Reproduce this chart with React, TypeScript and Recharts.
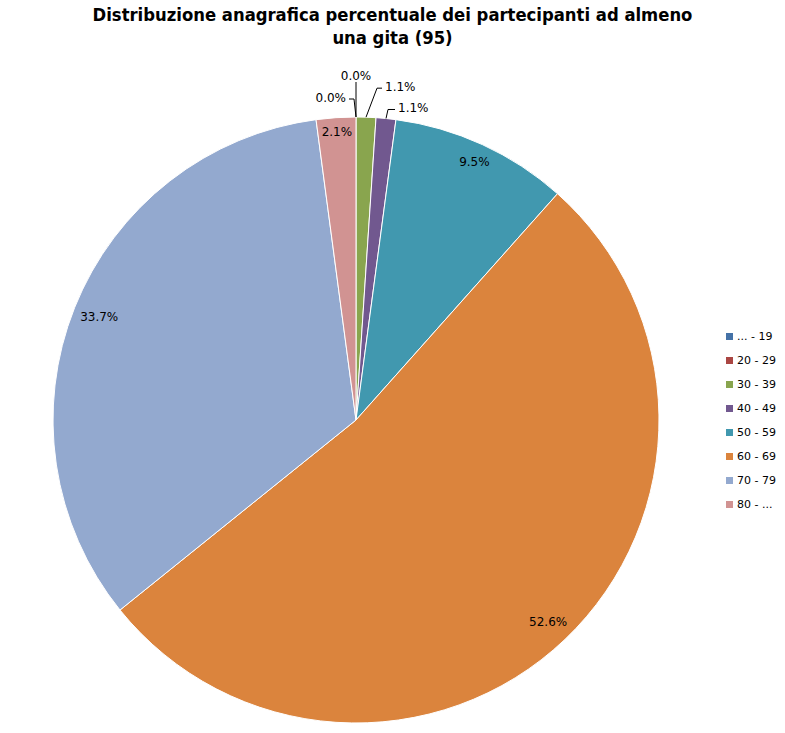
import React from 'react';
import { PieChart, Pie, Cell, Legend } from 'recharts';

const AGE_GROUPS = ['... - 19', '20 - 29', '30 - 39', '40 - 49', '50 - 59', '60 - 69', '70 - 79', '80 - ...'];
const PARTICIPANTS = [0, 0, 1, 1, 9, 50, 32, 2];

const COLORS = ['#4572A7', '#AA4643', '#89A54E', '#71588F', '#4198AF', '#DB843D', '#93A9CF', '#D19392'];

// leader-line tweaks for the tiny slices at the top (offsets from the slice edge)
const LEADERS: Record<number, { dx: number; dy: number; h: number; anchor: 'start' | 'middle' | 'end' }> = {
  0: { dx: 0, dy: -35, h: 0, anchor: 'middle' },
  1: { dx: -2, dy: -18, h: -5, anchor: 'end' },
  2: { dx: 11, dy: -29, h: 5, anchor: 'start' },
  3: { dx: 2, dy: -9, h: 7, anchor: 'start' },
};

const data = AGE_GROUPS.map((g, i) => ({ name: g, value: PARTICIPANTS[i] }));

const RADIAN = Math.PI / 180;
const FONT = 'DejaVu Sans, Verdana, sans-serif';
const LABEL_SIZE = 12;

if (typeof document !== 'undefined') document.body.style.margin = '0';

function renderLabel(props: any) {
  const { cx, cy, midAngle, outerRadius, percent, index } = props;
  const text = `${(percent * 100).toFixed(1)}%`;
  const cos = Math.cos(-midAngle * RADIAN);
  const sin = Math.sin(-midAngle * RADIAN);
  const leader = LEADERS[index];
  if (leader) {
    const ex = cx + outerRadius * cos;
    const ey = cy + outerRadius * sin;
    const mx = ex + leader.dx;
    const my = ey + leader.dy;
    const hx = mx + leader.h;
    const tx = leader.anchor === 'middle' ? hx : hx + (leader.h < 0 ? -3 : 3);
    const ty = leader.anchor === 'middle' ? my - 6 : my - 1;
    return (
      <g key={`lbl-${index}`}>
        <polyline points={`${ex},${ey} ${mx},${my} ${hx},${my}`} fill="none" stroke="#000" strokeWidth={1} />
        <text x={tx} y={ty} textAnchor={leader.anchor} dominantBaseline="central" fontSize={LABEL_SIZE} fontFamily={FONT} fill="#000">
          {text}
        </text>
      </g>
    );
  }
  // keep the label box just inside the rim
  const hw = text.length * 0.3 * LABEL_SIZE;
  const hh = LABEL_SIZE / 2;
  const r = outerRadius - 7.5 - (Math.abs(cos) * hw + Math.abs(sin) * hh);
  return (
    <text
      key={`lbl-${index}`}
      x={cx + r * cos}
      y={cy + r * sin}
      textAnchor="middle"
      dominantBaseline="central"
      fontSize={LABEL_SIZE}
      fontFamily={FONT}
      fill="#000"
    >
      {text}
    </text>
  );
}

function renderLegend() {
  return (
    <div style={{ fontFamily: FONT, fontSize: 11, color: '#000' }}>
      {AGE_GROUPS.map((g, i) => (
        <div key={g} style={{ display: 'flex', alignItems: 'center', height: 24 }}>
          <div style={{ width: 7, height: 7, background: COLORS[i], marginRight: 4 }} />
          <span>{g}</span>
        </div>
      ))}
    </div>
  );
}

export default function App() {
  return (
    <div style={{ position: 'relative', width: 785, height: 733, background: '#fff' }}>
      <div
        style={{
          position: 'absolute',
          top: 3,
          left: 0,
          width: 785,
          textAlign: 'center',
          fontFamily: 'DejaVu Sans Condensed, DejaVu Sans, sans-serif',
          fontWeight: 'bold',
          fontSize: 18.3,
          lineHeight: '23px',
          color: '#000',
        }}
      >
        Distribuzione anagrafica percentuale dei partecipanti ad almeno
        <br />
        una gita (95)
      </div>
      <PieChart
        width={785}
        height={733}
        margin={{ top: 0, right: 0, bottom: 0, left: 0 }}
        style={{ position: 'absolute', top: 0, left: 0 }}
      >
        <Pie
          data={data}
          dataKey="value"
          nameKey="name"
          cx={356}
          cy={420}
          outerRadius={303}
          startAngle={90}
          endAngle={-270}
          stroke="#fff"
          strokeWidth={1}
          label={renderLabel}
          labelLine={false}
          isAnimationActive={false}
        >
          {data.map((entry, index) => (
            <Cell key={`cell-${index}`} fill={COLORS[index % COLORS.length]} />
          ))}
        </Pie>
        <Legend
          content={renderLegend}
          layout="vertical"
          wrapperStyle={{ position: 'absolute', left: 726, top: 324, width: 60 }}
        />
      </PieChart>
    </div>
  );
}
